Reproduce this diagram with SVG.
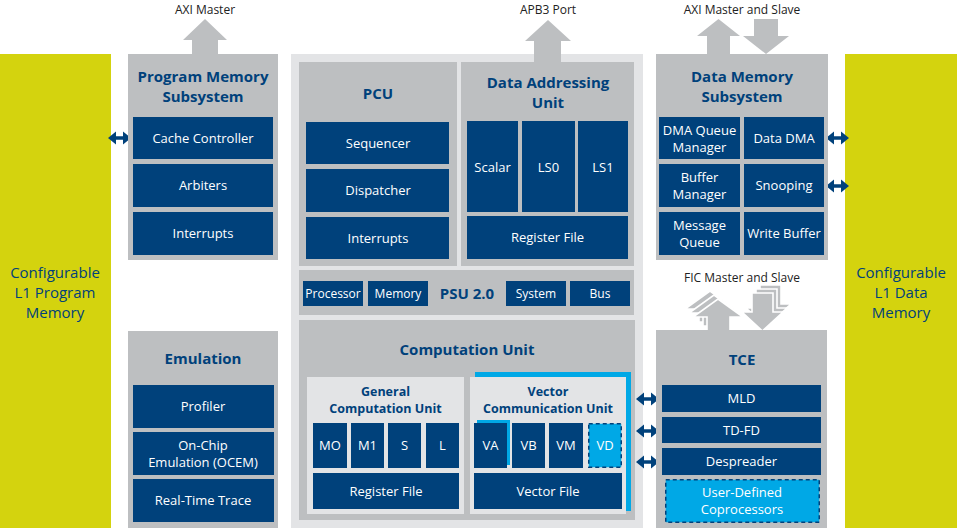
<svg xmlns="http://www.w3.org/2000/svg" xmlns:xlink="http://www.w3.org/1999/xlink" width="960" height="528" viewBox="0 0 960 528">
<defs>
<style>
.yel{fill:#d4d30e}
.panel{fill:#e3e4e6}
.grey{fill:#bdbfc1}
.light{fill:#e3e4e6}
.blue{fill:#00417b}
.cyan{fill:#00a8e6}
.dash{fill:#00a8e6;stroke:#00417b;stroke-width:1.5;stroke-dasharray:4 3}
.arr{fill:#bdbfc1}
.arrs{fill:#bdbfc1;stroke:#ffffff;stroke-width:1.6}
.dbl{fill:#00417b}
text{font-family:"Open Sans","Noto Sans","Liberation Sans",sans-serif;text-anchor:middle}
.t{font-size:13px;fill:#ffffff}
.ts{font-size:12px;fill:#ffffff}
.h{font-size:15px;font-weight:bold;fill:#00417b}
.h2{font-size:12.5px;font-weight:bold;fill:#00417b}
.lab{font-size:12px;fill:#222222}
.mem{font-size:15px;fill:#00417b}
</style>
<path id="da" d="M0,0 L8,-6.5 L8,-1.8 L15,-1.8 L15,-6.5 L23,0 L15,6.5 L15,1.8 L8,1.8 L8,6.5 Z"/>
</defs>
<rect width="960" height="528" fill="#ffffff"/>

<g id="l1-program-memory">
<rect class="yel" x="0" y="54" width="111" height="474"/>
<text class="mem" x="55" y="278">Configurable</text>
<text class="mem" x="55" y="298">L1 Program</text>
<text class="mem" x="55" y="318">Memory</text>
</g>

<g id="l1-data-memory">
<rect class="yel" x="845" y="54" width="112" height="474"/>
<text class="mem" x="901" y="278">Configurable</text>
<text class="mem" x="901" y="298">L1 Data</text>
<text class="mem" x="901" y="318">Memory</text>
</g>

<g id="central-panel">
<rect class="panel" x="291" y="54" width="352" height="474"/>
</g>

<g id="connectors">
<path class="arr" d="M192,54 L192,40 L183,40 L205,19 L227,40 L218,40 L218,54 Z"/>
<path class="arr" d="M534,62 L534,41 L525,41 L548,20 L571,41 L561,41 L561,62 Z"/>
<path class="arr" d="M707,54 L707,36 L697,36 L718.5,19 L740,36 L730,36 L730,54 Z"/>
<path class="arr" d="M754,19 L778,19 L778,36 L789,36 L766,54 L743,36 L754,36 Z"/>
<g transform="translate(-8,-8)"><path class="arrs" d="M707,330 L707,317 L693,317 L718,299 L743,317 L730,317 L730,330 Z"/></g>
<g transform="translate(-4,-4)"><path class="arrs" d="M707,330 L707,317 L693,317 L718,299 L743,317 L730,317 L730,330 Z"/></g>
<path class="arrs" d="M707,331 L707,317 L693,317 L718,299 L743,317 L730,317 L730,331 Z"/>
<g transform="translate(8,-8)"><path class="arrs" d="M752,293 L773,293 L773,312 L783,312 L762.5,330 L742,312 L752,312 Z"/></g>
<g transform="translate(4,-4)"><path class="arrs" d="M752,293 L773,293 L773,312 L783,312 L762.5,330 L742,312 L752,312 Z"/></g>
<path class="arrs" d="M752,293 L773,293 L773,312 L783,312 L762.5,331 L742,312 L752,312 Z"/>
<use xlink:href="#da" class="dbl" x="108" y="138"/>
<use xlink:href="#da" class="dbl" x="826" y="138"/>
<use xlink:href="#da" class="dbl" x="826" y="186"/>
<use xlink:href="#da" class="dbl" x="636" y="399"/>
<use xlink:href="#da" class="dbl" x="636" y="431"/>
<use xlink:href="#da" class="dbl" x="636" y="462"/>
</g>

<g id="labels">
<text class="lab" x="205" y="14">AXI Master</text>
<text class="lab" x="548" y="14">APB3 Port</text>
<text class="lab" x="742" y="14">AXI Master and Slave</text>
<text class="lab" x="742" y="282">FIC Master and Slave</text>
</g>

<g id="program-memory-subsystem">
<rect class="grey" x="128" y="54" width="150" height="206"/>
<text class="h" x="203" y="82">Program Memory</text>
<text class="h" x="203" y="102">Subsystem</text>
<rect class="blue" x="133" y="117" width="140" height="42"/>
<text class="t" x="203" y="143">Cache Controller</text>
<rect class="blue" x="133" y="164" width="140" height="43"/>
<text class="t" x="203" y="190">Arbiters</text>
<rect class="blue" x="133" y="212" width="140" height="43"/>
<text class="t" x="203" y="238">Interrupts</text>
</g>

<g id="emulation">
<rect class="grey" x="128" y="331" width="150" height="197"/>
<text class="h" x="203" y="364">Emulation</text>
<rect class="blue" x="133" y="385" width="141" height="43"/>
<text class="t" x="203" y="411">Profiler</text>
<rect class="blue" x="133" y="432" width="141" height="43"/>
<text class="t" x="203" y="450">On-Chip</text>
<text class="t" x="203" y="467">Emulation (OCEM)</text>
<rect class="blue" x="133" y="479" width="141" height="43"/>
<text class="t" x="203" y="505">Real-Time Trace</text>
</g>

<g id="pcu">
<rect class="grey" x="299" y="62" width="158" height="204"/>
<text class="h" x="378" y="99">PCU</text>
<rect class="blue" x="306" y="122" width="143" height="42"/>
<text class="t" x="378" y="148">Sequencer</text>
<rect class="blue" x="306" y="169" width="143" height="43"/>
<text class="t" x="378" y="195">Dispatcher</text>
<rect class="blue" x="306" y="217" width="143" height="42"/>
<text class="t" x="378" y="243">Interrupts</text>
</g>

<g id="data-addressing-unit">
<rect class="grey" x="461" y="62" width="173" height="204"/>
<text class="h" x="548" y="88">Data Addressing</text>
<text class="h" x="548" y="108">Unit</text>
<rect class="blue" x="467" y="121" width="51" height="91"/>
<text class="t" x="492.5" y="172">Scalar</text>
<rect class="blue" x="522" y="121" width="53" height="91"/>
<text class="t" x="548.5" y="172">LS0</text>
<rect class="blue" x="578" y="121" width="50" height="91"/>
<text class="t" x="603" y="172">LS1</text>
<rect class="blue" x="467" y="216" width="161" height="43"/>
<text class="t" x="547.5" y="242">Register File</text>
</g>

<g id="psu">
<rect class="grey" x="299" y="270" width="335" height="45"/>
<rect class="blue" x="303" y="281" width="60" height="25"/>
<text class="ts" x="333" y="298">Processor</text>
<rect class="blue" x="368" y="281" width="60" height="25"/>
<text class="ts" x="398" y="298">Memory</text>
<text class="h" x="467" y="299">PSU 2.0</text>
<rect class="blue" x="506" y="281" width="60" height="25"/>
<text class="ts" x="536" y="298">System</text>
<rect class="blue" x="570" y="281" width="60" height="25"/>
<text class="ts" x="600" y="298">Bus</text>
</g>

<g id="computation-unit">
<rect class="grey" x="299" y="320" width="336" height="200"/>
<text class="h" x="467" y="355">Computation Unit</text>
</g>

<g id="general-computation-unit">
<rect class="light" x="307" y="377" width="157" height="137"/>
<text class="h2" x="385.5" y="396">General</text>
<text class="h2" x="385.5" y="413">Computation Unit</text>
<rect class="blue" x="313" y="423" width="34" height="45"/>
<text class="t" x="330" y="450">MO</text>
<rect class="blue" x="351" y="423" width="33" height="45"/>
<text class="t" x="367.5" y="450">M1</text>
<rect class="blue" x="388" y="423" width="33" height="45"/>
<text class="t" x="404.5" y="450">S</text>
<rect class="blue" x="426" y="423" width="33" height="45"/>
<text class="t" x="442.5" y="450">L</text>
<rect class="blue" x="313" y="473" width="146" height="36"/>
<text class="t" x="386" y="496">Register File</text>
</g>

<g id="vector-communication-unit">
<rect class="cyan" x="475" y="372" width="156" height="139"/>
<rect class="light" x="470" y="377" width="156" height="137"/>
<text class="h2" x="548" y="396">Vector</text>
<text class="h2" x="548" y="413">Communication Unit</text>
<rect class="cyan" x="477" y="420" width="33" height="45"/>
<rect class="blue" x="474" y="423" width="33" height="45"/>
<text class="t" x="490.5" y="450">VA</text>
<rect class="blue" x="512" y="423" width="33" height="45"/>
<text class="t" x="528.5" y="450">VB</text>
<rect class="blue" x="549" y="423" width="34" height="45"/>
<text class="t" x="566" y="450">VM</text>
<rect class="dash" x="588.75" y="423.75" width="32.5" height="43.5"/>
<text class="t" x="605" y="450">VD</text>
<rect class="blue" x="474" y="473" width="148" height="36"/>
<text class="t" x="548" y="496">Vector File</text>
</g>

<g id="data-memory-subsystem">
<rect class="grey" x="656" y="54" width="172" height="206"/>
<text class="h" x="742" y="82">Data Memory</text>
<text class="h" x="742" y="102">Subsystem</text>
<rect class="blue" x="659" y="117" width="81" height="42"/>
<text class="t" x="699.5" y="135">DMA Queue</text>
<text class="t" x="699.5" y="152">Manager</text>
<rect class="blue" x="744" y="117" width="80" height="42"/>
<text class="t" x="784" y="143">Data DMA</text>
<rect class="blue" x="659" y="164" width="81" height="43"/>
<text class="t" x="699.5" y="182">Buffer</text>
<text class="t" x="699.5" y="199">Manager</text>
<rect class="blue" x="744" y="164" width="80" height="43"/>
<text class="t" x="784" y="190">Snooping</text>
<rect class="blue" x="659" y="212" width="81" height="43"/>
<text class="t" x="699.5" y="230">Message</text>
<text class="t" x="699.5" y="247">Queue</text>
<rect class="blue" x="744" y="212" width="80" height="43"/>
<text class="t" x="784" y="238">Write Buffer</text>
</g>

<g id="tce">
<rect class="grey" x="656" y="330" width="171" height="198"/>
<text class="h" x="742" y="365">TCE</text>
<rect class="blue" x="662" y="385" width="159" height="27"/>
<text class="t" x="741.5" y="403">MLD</text>
<rect class="blue" x="662" y="417" width="159" height="26"/>
<text class="t" x="741.5" y="435">TD-FD</text>
<rect class="blue" x="662" y="448" width="159" height="27"/>
<text class="t" x="741.5" y="466">Despreader</text>
<rect class="dash" x="665.75" y="479.75" width="153.5" height="42.5"/>
<text class="t" x="742" y="497">User-Defined</text>
<text class="t" x="742" y="514">Coprocessors</text>
</g>
</svg>
